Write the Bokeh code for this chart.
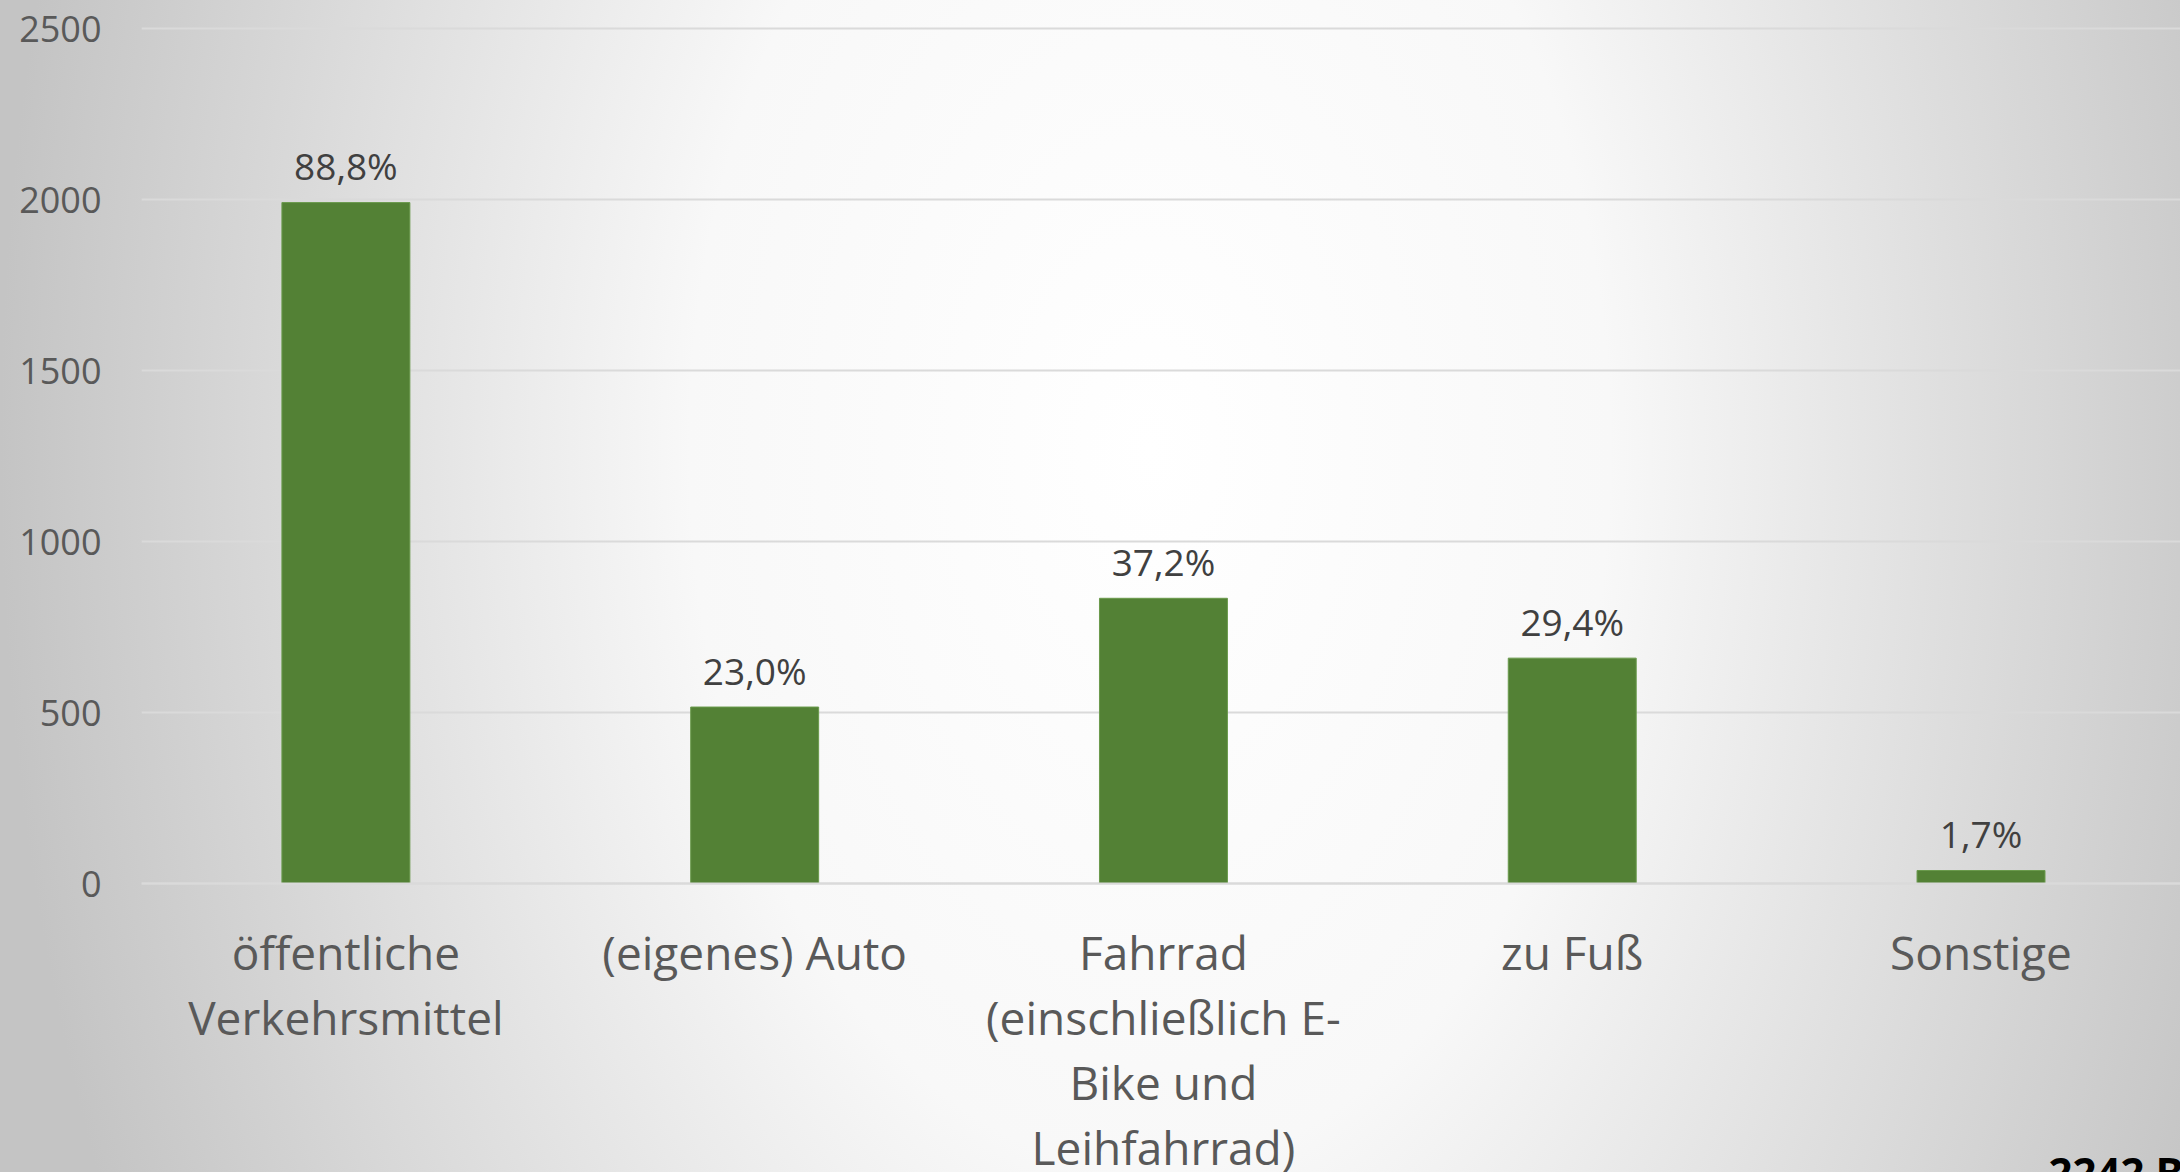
from bokeh.plotting import figure
from bokeh.models import Range1d, FixedTicker, Label, ColumnDataSource
from bokeh.core.properties import value
from bokeh.embed import file_html
from bokeh.resources import INLINE

categories = ["öffentliche\nVerkehrsmittel", "(eigenes) Auto",
              "Fahrrad\n(einschließlich E-\nBike und\nLeihfahrrad)", "zu Fuß", "Sonstige"]
counts = [1991, 516, 834, 659, 38]
pct_labels = ["88,8%", "23,0%", "37,2%", "29,4%", "1,7%"]
y_ticks = [0, 500, 1000, 1500, 2000, 2500]
footnote = "2242 Befragte"

xs = list(range(len(categories)))
src = ColumnDataSource(dict(x=xs, top=counts, lab=pct_labels))

p = figure(width=2180, height=1172, output_backend="svg", toolbar_location=None,
           x_range=Range1d(-0.5, 4.488), y_range=Range1d(-845.0, 2581.9),
           min_border_left=141, min_border_right=0, min_border_top=0, min_border_bottom=0)
p.border_fill_color = None
p.background_fill_color = None
p.outline_line_color = None
p.styles = {"background-image": "radial-gradient(1150px 1800px at 1150px 450px, #ffffff 0%, #f8f8f8 40%, #c4c4c4 100%)"}

p.vbar(x="x", top="top", width=0.313, source=src, fill_color="#538135", line_color="#6a9a4c", line_width=1)
p.text(x="x", y="top", text="lab", source=src, text_align="center", text_baseline="alphabetic",
       y_offset=-37, text_font=value("Open Sans"), text_font_size="37px", text_color="#404040")

p.xgrid.grid_line_color = None
p.ygrid.grid_line_color = "#dadada"
p.ygrid.grid_line_width = 2
p.ygrid.ticker = FixedTicker(ticks=y_ticks)

p.yaxis.ticker = FixedTicker(ticks=y_ticks)
p.yaxis.axis_line_color = None
p.yaxis.major_tick_out = 0
p.yaxis.major_tick_in = 0
p.yaxis.major_tick_line_color = None
p.yaxis.minor_tick_line_color = None
p.yaxis.major_label_text_font = "Open Sans"
p.yaxis.major_label_text_font_size = "36px"
p.yaxis.major_label_text_color = "#595959"
p.yaxis.major_label_standoff = 40

p.xaxis.fixed_location = 0
p.xaxis.ticker = FixedTicker(ticks=xs)
p.xaxis.major_label_overrides = {i: c for i, c in zip(xs, categories)}
p.xaxis.axis_line_color = "#dadada"
p.xaxis.axis_line_width = 2
p.xaxis.major_tick_out = 0
p.xaxis.major_tick_in = 0
p.xaxis.major_tick_line_color = None
p.xaxis.minor_tick_line_color = None
p.xaxis.major_label_text_font = "Open Sans"
p.xaxis.major_label_text_font_size = "46px"
p.xaxis.major_label_text_color = "#595959"
p.xaxis.major_label_text_line_height = 1.05
p.xaxis.major_label_standoff = 37

p.add_layout(Label(x=4.165, y=-758, text=footnote,
                   text_font="Open Sans", text_font_size="42px", text_font_style="bold",
                   text_color="#000000", text_baseline="top"))

open("out.html", "w").write(file_html(p, INLINE))
